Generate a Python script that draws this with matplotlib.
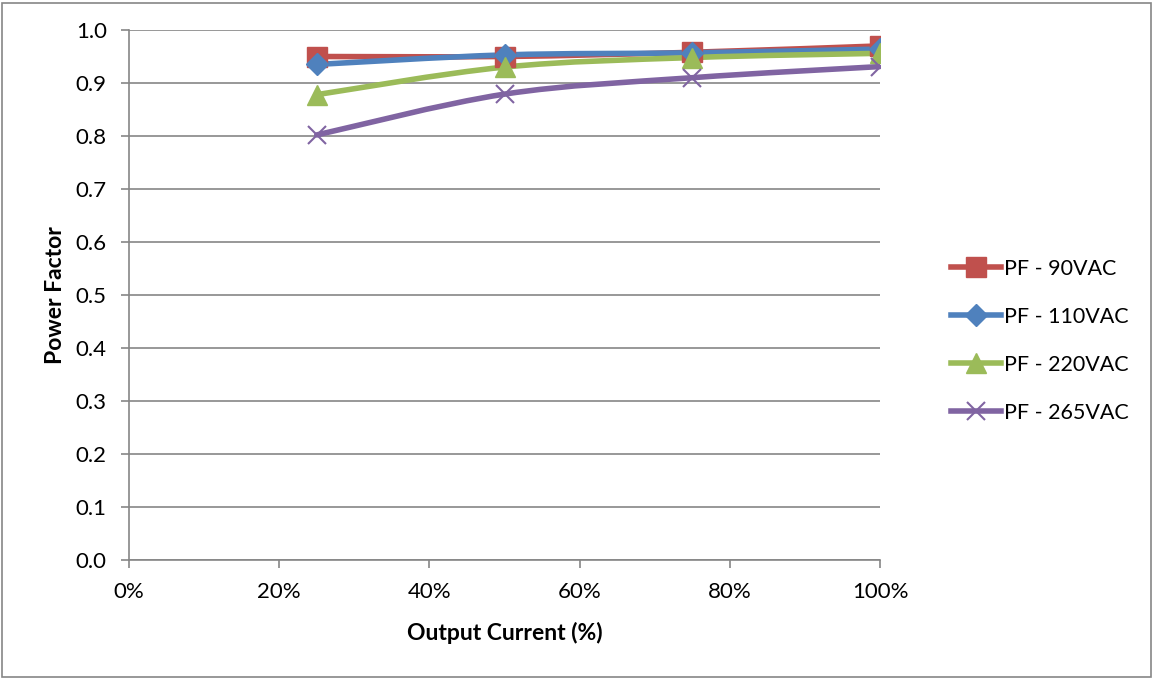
import matplotlib
matplotlib.use("Agg")
import matplotlib.pyplot as plt
from matplotlib.path import Path
from matplotlib.patches import PathPatch, Rectangle
from matplotlib.lines import Line2D
import numpy as np

plt.rcParams['font.family'] = ['Lato', 'DejaVu Sans']

x_pct = [25, 50, 75, 100]
pf_90 = [0.950, 0.950, 0.958, 0.970]
pf_110 = [0.935, 0.953, 0.957, 0.964]
pf_220 = [0.878, 0.930, 0.948, 0.956]
pf_265 = [0.802, 0.879, 0.910, 0.931]
labels = ['PF - 90VAC', 'PF - 110VAC', 'PF - 220VAC', 'PF - 265VAC']
colors = ['#C0504D', '#4F81BD', '#9BBB59', '#8064A2']
markers = ['s', 'D', '^', 'x']
msizes = [14, 11, 14, 13]
yticks = [0.0, 0.1, 0.2, 0.3, 0.4, 0.5, 0.6, 0.7, 0.8, 0.9, 1.0]
xticks = [0, 20, 40, 60, 80, 100]

fig = plt.figure(figsize=(11.54, 6.79), dpi=100)
ax = fig.add_axes([129/1154, 1-560/679, (880-129)/1154, (560-30)/679])

def smooth_path(xs, ys):
    pts = np.column_stack([xs, ys]).astype(float)
    verts = [pts[0]]
    codes = [Path.MOVETO]
    n = len(pts)
    for i in range(n - 1):
        p0 = pts[i - 1] if i > 0 else pts[i]
        p1 = pts[i]
        p2 = pts[i + 1]
        p3 = pts[i + 2] if i + 2 < n else pts[i + 1]
        c1 = p1 + (p2 - p0) / 6.0
        c2 = p2 - (p3 - p1) / 6.0
        verts += [c1, c2, p2]
        codes += [Path.CURVE4] * 3
    return Path(verts, codes)

series = [pf_90, pf_110, pf_220, pf_265]
for ys, c, m, ms, lab in zip(series, colors, markers, msizes, labels):
    patch = PathPatch(smooth_path(x_pct, ys), facecolor='none', edgecolor=c,
                      lw=4, capstyle='round', joinstyle='round', zorder=3)
    ax.add_patch(patch)
    mew = 1.5 if m == 'x' else 1
    ax.plot(x_pct, ys, ls='none', marker=m, color=c, ms=ms, mew=mew, zorder=4)

ax.set_xlim(0, 100)
ax.set_ylim(0, 1.0)
ax.set_yticks(yticks)
ax.set_yticklabels([f"{v:.1f}" for v in yticks])
ax.set_xticks(xticks)
ax.set_xticklabels([f"{v}%" for v in xticks])
ax.grid(axis='y', color='#868686', lw=1.2)
ax.set_axisbelow(True)
for s in ['top', 'right']:
    ax.spines[s].set_visible(False)
for s in ['left', 'bottom']:
    ax.spines[s].set_color('#868686')
    ax.spines[s].set_linewidth(1.2)
ax.tick_params(axis='both', colors='#868686', labelcolor='black', labelsize=16,
               length=6, width=1.2, direction='out')
ax.tick_params(axis='y', pad=10)
ax.tick_params(axis='x', pad=10)
ax.set_xlabel('Output Current (%)', fontsize=16.5, fontweight='bold', labelpad=14)
ax.set_ylabel('Power Factor', fontsize=16.5, fontweight='bold', labelpad=7)

handles = [Line2D([], [], color=c, lw=4, marker=m, ms=ms, mew=1.5 if m == 'x' else 1)
           for c, m, ms in zip(colors, markers, msizes)]
leg = fig.legend(handles, labels, loc='center left', bbox_to_anchor=(932/1154, 1-341/679),
                 frameon=False, fontsize=15.5, handlelength=2.3, labelspacing=1.3,
                 handletextpad=0.15)

fig.patches.append(Rectangle((2/1154, 2/679), 1149/1154, 674/679, transform=fig.transFigure,
                             fill=False, edgecolor='#868686', lw=1.2))

fig.savefig('out.png', dpi=100)
